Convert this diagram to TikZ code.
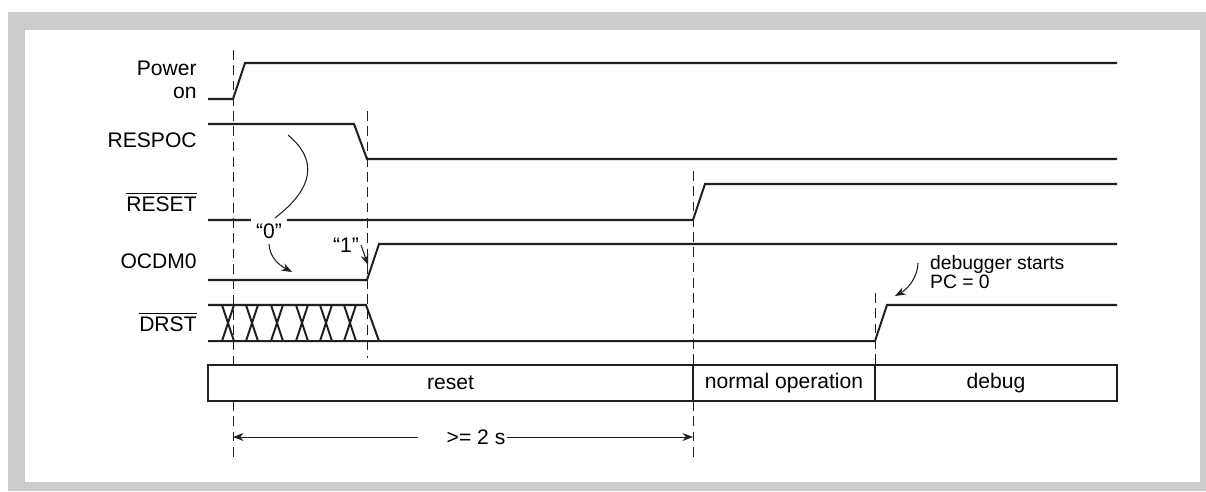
\documentclass[tikz,border=0pt]{standalone}
\usepackage{fontspec}
\setmainfont{Liberation Sans}
\usetikzlibrary{arrows.meta,positioning}
\definecolor{FrameGray}{RGB}{204,204,204}
\definecolor{InkBlack}{RGB}{35,31,32}
\tikzset{
  sig/.style={line width=1.15pt,InkBlack,line join=miter},
  guide/.style={line width=0.55pt,InkBlack,dash pattern=on 5.5pt off 3.2pt},
  siglabel/.style={anchor=east,inner sep=0pt,align=right,
    font=\fontsize{12}{13}\selectfont},
  phase/.style={draw=InkBlack,line width=0.85pt,outer sep=0pt,
    minimum height=0.72cm,font=\fontsize{12}{13}\selectfont},
  note/.style={inner sep=1pt,font=\fontsize{11}{10.5}\selectfont,align=left},
  pointer/.style={-{Stealth[length=6pt,width=4.5pt]},line width=0.6pt,InkBlack}
}

\begin{document}
\begin{tikzpicture}[x=0.02cm,y=-0.02cm]
\useasboundingbox (0,0) rectangle (1206,491);

% frame
\fill[FrameGray] (8,12) rectangle (1206,491);
\fill[white] (25,30) rectangle (1200,482);

% signal names
\node[siglabel] (pwr) at (197,80) {Power\\on};
\node[siglabel] (respoc) at (197,140) {RESPOC};
\node[siglabel] (rst) at (197,202) {$\overline{\mbox{RESET}}$};
\node[siglabel] (ocdm) at (197,261) {OCDM0};
\node[siglabel] (drst) at (197,322) {$\overline{\mbox{DRST}}$};

% time marks
\draw[guide] (233,50) -- (233,365);
\draw[guide] (233,401) -- (233,462);
\draw[guide] (367,111) -- (367,358);
\draw[guide] (693,171) -- (693,365);
\draw[guide] (693,401) -- (693,462);
\draw[guide] (875,293) -- (875,365);

% waveforms
\draw[sig] (208,99) -- (233,99) -- (245,63) -- (1117,63);
\draw[sig] (208,124) -- (354,124) -- (367,159) -- (1117,159);
\draw[sig] (208,220) -- (693,220) -- (705,184) -- (1117,184);
\draw[sig] (208,280) -- (367,280) -- (379,244) -- (1117,244);

% DRST bus
\draw[sig] (208,305) -- (366,305) -- (379,341);
\draw[sig] (208,341) -- (875,341) -- (887,305) -- (1117,305);
\foreach \c in {228,252,277,302,326,350}
  \draw[sig] (\c-6,305) -- (\c+6,341) (\c-6,341) -- (\c+6,305);

% value labels
\node[fill=white,inner sep=3pt,font=\fontsize{12}{13}\selectfont] (q0) at (269,231) {“0”};
\node[inner sep=1pt,font=\fontsize{12}{13}\selectfont] (q1) at (346,245) {“1”};
\coordinate (respocv) at (288,135);
\coordinate (ocdmlow) at (292,272);
\coordinate (ocdmedge) at (368,265);
\draw[line width=0.6pt,InkBlack] (respocv) .. controls (318,160) and (314,188) .. ([xshift=0.12cm]q0.north);
\draw[pointer] (q0.south) .. controls (270,258) and (279,265) .. (ocdmlow);
\draw[pointer] (q1.east) -- (ocdmedge);

% debugger note
\node[note,anchor=west] (dbg) at (928,272) {debugger starts\\PC = 0};
\coordinate (dbgstart) at (918,263);
\coordinate (drstedge) at (895,296);
\draw[pointer] (dbgstart) .. controls (917,280) and (906,290) .. (drstedge);

% phases
\node[phase,minimum width=9.7cm] (ph1) at (450.5,383) {reset};
\node[phase,minimum width=3.64cm] (ph2) at (784,383) {normal operation};
\node[phase,minimum width=4.84cm] (ph3) at (996,383) {debug};

% duration
\node[inner sep=1pt,font=\fontsize{12}{13}\selectfont] (dur) at (476,437) {>= 2 s};
\coordinate (durL) at (233,437);
\coordinate (durR) at (693,437);
\coordinate (gapL) at (418,437);
\draw[pointer,line width=0.5pt] (gapL) -- (durL);
\draw[pointer,line width=0.5pt] (dur.east) -- (durR);

\end{tikzpicture}
\end{document}
